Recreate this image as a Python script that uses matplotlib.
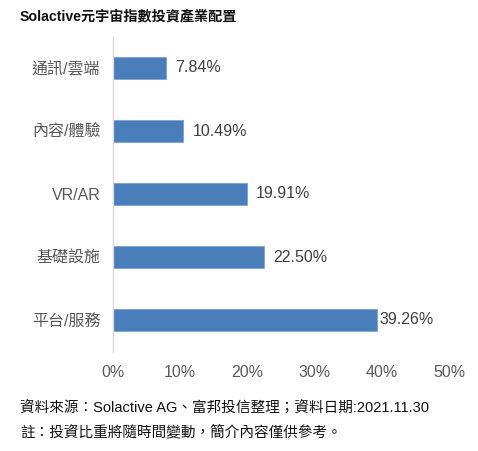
import matplotlib
matplotlib.use("Agg")
import matplotlib.pyplot as plt

plt.rcParams['font.family'] = ['Liberation Sans', 'Noto Sans CJK TC', 'DejaVu Sans']

categories = ["通訊/雲端", "內容/體驗", "VR/AR", "基礎設施", "平台/服務"]
weights = [7.84, 10.49, 19.91, 22.50, 39.26]
label_offsets = [9, 9, 9, 9, 3]
xticks = [0, 10, 20, 30, 40, 50]
xticklabels = ["0%", "10%", "20%", "30%", "40%", "50%"]

fig = plt.figure(figsize=(4.78, 4.51), dpi=100)
ax = fig.add_axes([113 / 478, 1 - 351.5 / 451, 336 / 478, 315 / 451])

ypos = list(range(len(categories)))
ax.barh(ypos, weights, height=0.36, color="#4a7ebb", edgecolor="#7ba3d3", linewidth=0.6)
ax.set_ylim(len(categories) - 0.5, -0.5)
ax.set_xlim(0, 50)

for y, v, off in zip(ypos, weights, label_offsets):
    ax.annotate(f"{v:.2f}%", (v, y), xytext=(off * 0.72, 0), textcoords="offset points",
                va="center", ha="left", fontsize=11.5, color="#404040")

ax.set_yticks(ypos)
ax.set_yticklabels(categories, fontsize=11.5, color="#595959")
ax.set_xticks(xticks)
ax.set_xticklabels(xticklabels, fontsize=11.5, color="#595959")
ax.tick_params(axis="both", length=0)
ax.tick_params(axis="x", pad=10)
ax.tick_params(axis="y", pad=9)

for s in ["top", "right", "bottom"]:
    ax.spines[s].set_visible(False)
ax.spines["left"].set_color("#d9d9d9")
ax.spines["left"].set_linewidth(1.0)

fig.text(20 / 478, 1 - 16 / 451, "Solactive元宇宙指數投資產業配置", fontsize=10.2,
         fontweight="bold", va="center", ha="left", color="#111111")
fig.text(20 / 478, 1 - 409 / 451, "資料來源：Solactive AG、富邦投信整理；資料日期:2021.11.30",
         fontsize=10.5, va="center", ha="left", color="#111111")
fig.text(20 / 478, 1 - 432 / 451, "註：投資比重將隨時間變動，簡介內容僅供參考。",
         fontsize=10.5, va="center", ha="left", color="#111111")

fig.savefig("out.png", dpi=100)
